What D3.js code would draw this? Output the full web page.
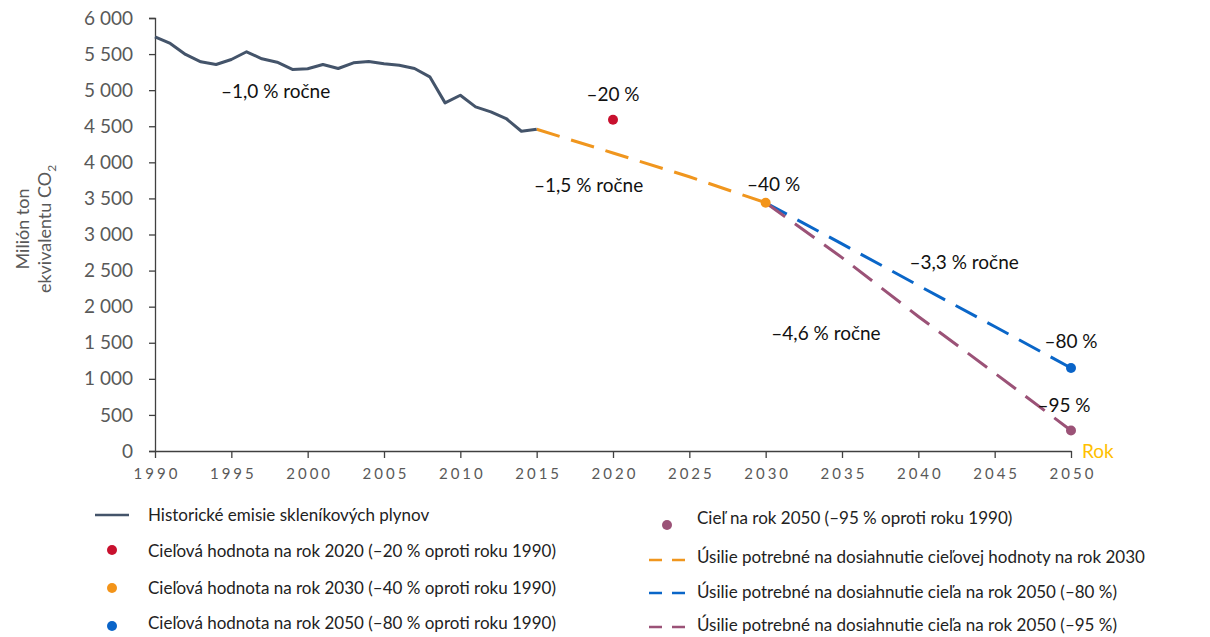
<!DOCTYPE html>
<html>
<head>
<meta charset="utf-8">
<script src="https://cdn.jsdelivr.net/npm/d3@7"></script>
<style>
  body { margin: 0; background: #fff; }
  svg { font-family: Lato, "Noto Sans", sans-serif; }
</style>
</head>
<body>
<div id="chart"></div>
<script>
// historical emissions, million t CO2 eq.
var years = [1990,1991,1992,1993,1994,1995,1996,1997,1998,1999,2000,2001,2002,2003,2004,2005,2006,2007,2008,2009,2010,2011,2012,2013,2014,2015];
var emissions = [5740,5647,5495,5393,5356,5425,5532,5435,5388,5287,5296,5356,5300,5379,5397,5365,5346,5300,5185,4824,4930,4769,4700,4607,4431,4458];

// pathways
var path2030 = [[2015,4458],[2020,4130],[2025,3800],[2030,3440]];
var path2050a = [[2030,3440],[2035,2870],[2040,2294],[2045,1725],[2050,1150]];
var path2050b = [[2030,3440],[2035,2680],[2040,1864],[2045,1080],[2050,285]];

// targets
var targets = [
  {year: 2020, value: 4590, label: "–20 %", color: "#c8102e"},
  {year: 2030, value: 3440, label: "–40 %", color: "#f39419"},
  {year: 2050, value: 1150, label: "–80 %", color: "#0a64c8"},
  {year: 2050, value: 285, label: "–95 %", color: "#9b5277"}
];

var rateNotes = [
  {year: 1997.9, value: 4990, text: "–1,0 % ročne"},
  {year: 2018.4, value: 3686, text: "–1,5 % ročne"},
  {year: 2043.0, value: 2619, text: "–3,3 % ročne"},
  {year: 2033.95, value: 1635, text: "–4,6 % ročne"}
];

var xTicks = [1990,1995,2000,2005,2010,2015,2020,2025,2030,2035,2040,2045,2050];
var yTicks = [0,500,1000,1500,2000,2500,3000,3500,4000,4500,5000,5500,6000];

var W = 1210, H = 637;
var histColor = "#44546a", orange = "#f0961e", blue = "#0a66c8", purple = "#9b5277";

var svg = d3.select("#chart").append("svg").attr("width", W).attr("height", H);

var x = d3.scaleLinear().domain([1990, 2050]).range([155, 1071]);
var y = d3.scaleLinear().domain([0, 6000]).range([451, 18]);

var fmt = d3.formatLocale({decimal: ",", thousands: "\u00a0", grouping: [3], currency: ["", ""]}).format(",");

// y axis
var yAxis = svg.append("g").attr("transform", "translate(155,0)")
  .call(d3.axisLeft(y).tickValues(yTicks).tickFormat(fmt).tickSize(6).tickPadding(16));
yAxis.select(".domain").attr("stroke", "#404040").attr("stroke-width", 1.3);
yAxis.selectAll(".tick line").attr("stroke", "#404040").attr("stroke-width", 1.3);
yAxis.selectAll(".tick text").attr("fill", "#595959").style("font-size", "19px").style("font-family", "Lato, sans-serif");

// x axis
var xAxis = svg.append("g").attr("transform", "translate(0,451)")
  .call(d3.axisBottom(x).tickValues(xTicks).tickFormat(d3.format("d")).tickSize(7).tickPadding(10).tickSizeOuter(0));
xAxis.select(".domain").attr("stroke", "#404040").attr("stroke-width", 1.3);
xAxis.selectAll(".tick line").attr("stroke", "#404040").attr("stroke-width", 1.3);
xAxis.selectAll(".tick text").attr("fill", "#595959").style("font-size", "15px")
  .style("letter-spacing", "3px").attr("dx", "1.5px").style("font-family", "Lato, sans-serif");

svg.append("text").attr("x", 1082).attr("y", 451).attr("dy", "0.35em").attr("fill", "#ffc000")
  .style("font-size", "19px").text("Rok");

// y label
var yl = svg.append("text").attr("transform", "translate(29,229) rotate(-90)")
  .attr("text-anchor", "middle").attr("fill", "#595959").style("font-size", "18px");
yl.append("tspan").attr("x", 0).attr("dy", 0).text("Milión ton");
var t2 = yl.append("tspan").attr("x", 0).attr("dy", 22).text("ekvivalentu CO");
yl.append("tspan").attr("dy", 5).style("font-size", "12px").text("2");

var line = d3.line().x(function(d) { return x(d[0]); }).y(function(d) { return y(d[1]); });

svg.append("path").datum(path2050a).attr("d", line).attr("fill", "none")
  .attr("stroke", blue).attr("stroke-width", 3).attr("stroke-dasharray", "24,12");
svg.append("path").datum(path2050b).attr("d", line).attr("fill", "none")
  .attr("stroke", purple).attr("stroke-width", 3).attr("stroke-dasharray", "24,12");
svg.append("path").datum(path2030).attr("d", line).attr("fill", "none")
  .attr("stroke", orange).attr("stroke-width", 3).attr("stroke-dasharray", "24,12");

svg.append("path").datum(d3.zip(years, emissions)).attr("d", line).attr("fill", "none")
  .attr("stroke", histColor).attr("stroke-width", 3).attr("stroke-linejoin", "round");

svg.selectAll(".target").data(targets).enter().append("circle")
  .attr("cx", function(d) { return x(d.year); })
  .attr("cy", function(d) { return y(d.value); })
  .attr("r", 5).attr("fill", function(d) { return d.color; });

// target labels
var labelOff = [[0, -25], [8, -18], [0, -27], [-7, -25]];
svg.selectAll(".tlabel").data(targets).enter().append("text")
  .attr("x", function(d, i) { return x(d.year) + labelOff[i][0]; })
  .attr("y", function(d, i) { return y(d.value) + labelOff[i][1]; })
  .attr("dy", "0.35em")
  .attr("text-anchor", "middle").attr("fill", "#111").style("font-size", "19px")
  .text(function(d) { return d.label; });

svg.selectAll(".note").data(rateNotes).enter().append("text")
  .attr("x", function(d) { return x(d.year); })
  .attr("y", function(d) { return y(d.value); })
  .attr("text-anchor", "middle").attr("dy", "0.35em").attr("fill", "#111").style("font-size", "19px")
  .text(function(d) { return d.text; });

// legend
var legLeft = [
  {type: "line", color: histColor, text: "Historické emisie skleníkových plynov", y: 515, my: 515},
  {type: "dot", color: "#c8102e", text: "Cieľová hodnota na rok 2020 (–20 % oproti roku 1990)", y: 551, my: 550},
  {type: "dot", color: "#f39419", text: "Cieľová hodnota na rok 2030 (–40 % oproti roku 1990)", y: 588, my: 588},
  {type: "dot", color: "#0a64c8", text: "Cieľová hodnota na rok 2050 (–80 % oproti roku 1990)", y: 623, my: 626}
];
var legRight = [
  {type: "dot", color: purple, text: "Cieľ na rok 2050 (–95 % oproti roku 1990)", y: 518, my: 525},
  {type: "dash", color: orange, text: "Úsilie potrebné na dosiahnutie cieľovej hodnoty na rok 2030", y: 557, my: 560},
  {type: "dash", color: blue, text: "Úsilie potrebné na dosiahnutie cieľa na rok 2050 (–80 %)", y: 592, my: 593},
  {type: "dash", color: purple, text: "Úsilie potrebné na dosiahnutie cieľa na rok 2050 (–95 %)", y: 625, my: 627}
];

function drawLegend(items, mx, tx) {
  var g = svg.append("g");
  items.forEach(function(d) {
    if (d.type == "line") {
      g.append("line").attr("x1", mx - 17).attr("x2", mx + 17).attr("y1", d.my).attr("y2", d.my)
        .attr("stroke", d.color).attr("stroke-width", 2.5);
    } else if (d.type == "dot") {
      g.append("circle").attr("cx", mx).attr("cy", d.my).attr("r", 5).attr("fill", d.color);
    } else {
      g.append("line").attr("x1", mx - 18).attr("x2", mx + 18).attr("y1", d.my).attr("y2", d.my)
        .attr("stroke", d.color).attr("stroke-width", 2.5).attr("stroke-dasharray", "13,10");
    }
    g.append("text").attr("x", tx).attr("y", d.y).attr("dy", "0.35em")
      .attr("fill", "#222").style("font-size", "17px").text(d.text);
  });
}
drawLegend(legLeft, 112, 148);
drawLegend(legRight, 667, 697);
</script>
</body>
</html>
